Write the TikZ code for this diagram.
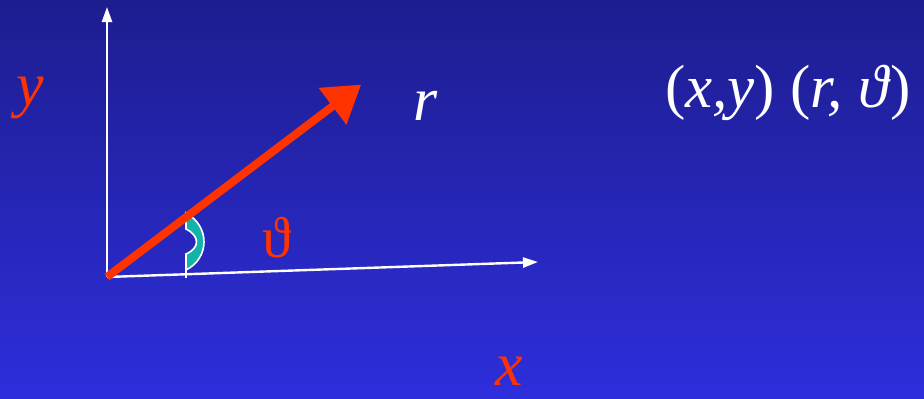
\documentclass[tikz,border=0pt]{standalone}
\usepackage{fontspec}
\setmainfont{Liberation Serif}
\usetikzlibrary{arrows.meta, positioning}
\definecolor{bgTop}{HTML}{1D1D8F}
\definecolor{bgBot}{HTML}{2E2EDC}
\definecolor{polRed}{HTML}{FF3300}
\definecolor{polTeal}{HTML}{12B4AA}

\begin{document}
\begin{tikzpicture}[x=1pt, y=-1pt,
      axis/.style={white, line width=2.4pt, -{Triangle[length=15pt, width=10pt]}},
      radius/.style={polRed, line width=8pt, -{Triangle[length=36pt, width=44pt]}, shorten >=-4pt},
      lbl/.style={font=\fontsize{62}{68}\selectfont\itshape, inner sep=0pt},
      tuple/.style={white, font=\fontsize{61}{66}\selectfont, inner sep=0pt}
    ]
    % background
    \shade[top color=bgTop, bottom color=bgBot] (0,0) rectangle (924,399);
    \useasboundingbox (0,0) rectangle (924,399);

    \coordinate (O) at (107,277);
    \coordinate (yEnd) at (107,7);
    \coordinate (xEnd) at (538,262);
    \coordinate (rEnd) at (358,87);

    \draw[axis] (O) -- (yEnd);
    \draw[axis] (O) -- (xEnd);

    % angle marker
    \draw[white, line width=1.6pt, fill=polTeal]
      (186,213) .. controls (210,226) and (210,258) .. (186,270)
      -- (186,254) .. controls (200,248) and (200,236) .. (186,229) -- cycle;
    \draw[white, line width=1.6pt] (186,268) -- (186,278);

    \draw[radius] (O) -- (rEnd);

    \node[lbl, polRed] (ylab) at (30,98) {y};
    \node[lbl, polRed, anchor=base] (xlab) at (509,385) {x};
    \node[lbl, white] (rlab) at (426,106) {r};
    \node[lbl, polRed, font=\fontsize{58}{62}\selectfont] (thlab) at (277,238) {ϑ};
    \node[tuple, anchor=west] (coords) at (665,93) {(\textit{x,y}) (\textit{r, ϑ})};
  \end{tikzpicture}
\end{document}
